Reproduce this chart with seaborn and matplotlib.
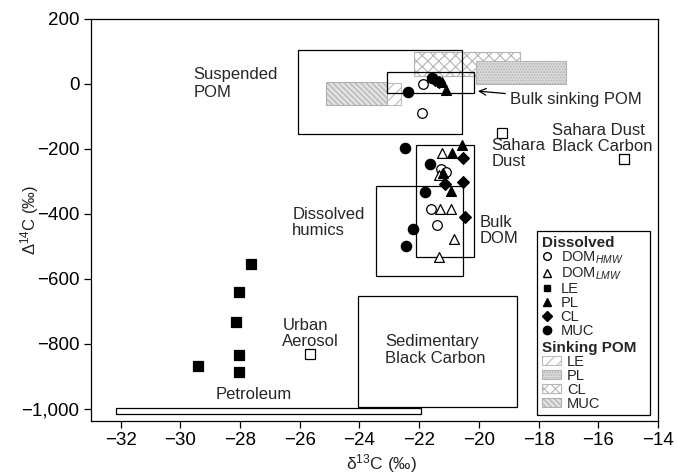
import numpy as np
import pandas as pd
import seaborn as sns
import matplotlib.pyplot as plt
from matplotlib.patches import Rectangle, Patch
from matplotlib.lines import Line2D
from matplotlib.ticker import FuncFormatter

# dissolved samples (d13C, D14C)
hmw_x = [-21.88, -21.89, -21.27, -21.11, -21.60, -21.40]
hmw_y = [-1, -90, -262, -270, -385, -435]
lmw_x = [-21.22, -21.33, -21.30, -20.92, -20.84, -21.32]
lmw_y = [-211, -279, -385, -385, -478, -534]
le_x = [-27.64, -28.03, -28.13, -28.03, -29.40, -28.03]
le_y = [-554, -641, -733, -834, -867, -885]
pl_x = [-20.90, -20.56, -21.19, -20.92, -21.24, -21.10]
pl_y = [-213, -187, -275, -329, 6, -18]
cl_x = [-20.54, -21.14, -20.52, -20.46, -21.47, -21.35]
cl_y = [-229, -308, -303, -409, 12, 7]
muc_x = [-22.47, -21.64, -21.81, -22.19, -22.45, -22.38, -21.58]
muc_y = [-198, -245, -333, -445, -499, -26, 19]

# single end-member samples (open squares)
other_names = ["Urban Aerosol", "Sahara Dust", "Sahara Dust Black Carbon"]
other_x = [-25.65, -19.21, -15.15]
other_y = [-832, -150, -232]

# end-member ranges (x0, x1, y0, y1)
box_names = ["Suspended POM", "Bulk sinking POM", "Dissolved humics",
             "Bulk DOM", "Sedimentary Black Carbon", "Petroleum"]
box_x0 = [-26.07, -23.08, -23.43, -22.10, -24.06, -32.15]
box_x1 = [-20.57, -20.15, -20.53, -20.15, -18.73, -21.95]
box_y0 = [-155, -27, -591, -534, -995, -1017]
box_y1 = [105, 37, -313, -188, -654, -997]

# sinking POM ranges
sink_names = ["LE", "MUC", "CL", "PL"]
sink_x0 = [-23.6, -25.11, -22.17, -20.09]
sink_x1 = [-22.60, -23.07, -18.62, -17.08]
sink_y0 = [-65, -65, 25, -1]
sink_y1 = [2, 7, 98, 71]
sink_hatch = {"LE": "///", "PL": "......", "CL": "xxx", "MUC": "\\\\\\\\\\\\"}
sink_face = {"LE": "white", "PL": "#dadada", "CL": "white", "MUC": "#e2e2e2"}
sink_edge = {"LE": "#bcbcbc", "PL": "#b4b4b4", "CL": "#b4b4b4", "MUC": "#b0b0b0"}

sns.set_style("ticks")
plt.rcParams["font.family"] = ["Liberation Sans", "DejaVu Sans"]
plt.rcParams["mathtext.fontset"] = "custom"
plt.rcParams["mathtext.rm"] = "Liberation Sans"
plt.rcParams["mathtext.it"] = "Liberation Sans:italic"
plt.rcParams["hatch.linewidth"] = 0.8

fig = plt.figure(figsize=(6.77, 4.74), dpi=100)
ax = fig.add_axes([0.134, 0.112, 0.838, 0.848])

# sinking POM patches in the back
for n, x0, x1, y0, y1 in zip(sink_names, sink_x0, sink_x1, sink_y0, sink_y1):
    ax.add_patch(Rectangle((x0, y0), x1 - x0, y1 - y0, facecolor=sink_face[n],
                           edgecolor=sink_edge[n], hatch=sink_hatch[n], lw=0.8, zorder=1))

# end-member boxes
for x0, x1, y0, y1 in zip(box_x0, box_x1, box_y0, box_y1):
    ax.add_patch(Rectangle((x0, y0), x1 - x0, y1 - y0, fill=False,
                           edgecolor="black", lw=0.9, zorder=2))

groups = [
    (hmw_x, hmw_y, "o", "white", 48),
    (lmw_x, lmw_y, "^", "white", 50),
    (le_x, le_y, "s", "black", 42),
    (pl_x, pl_y, "^", "black", 50),
    (cl_x, cl_y, "D", "black", 36),
    (muc_x, muc_y, "o", "black", 55),
]
for gx, gy, m, fc, s in groups:
    sns.scatterplot(x=gx, y=gy, marker=m, s=s, color=fc, edgecolor="black",
                    linewidth=0.9, ax=ax, zorder=3)

sns.scatterplot(x=other_x, y=other_y, marker="s", s=46, color="white",
                edgecolor="black", linewidth=0.9, ax=ax, zorder=3)

fs = 12
ls = 1.1
ax.text(-29.56, 0, "Suspended\nPOM", fontsize=fs, va="center", ha="left", linespacing=1.25)
ax.text(-19.59, -215, "Sahara\nDust", fontsize=fs, va="center", ha="left", linespacing=ls)
ax.text(-17.56, -167, "Sahara Dust\nBlack Carbon", fontsize=fs, va="center", ha="left", linespacing=ls)
ax.text(-19.96, -452, "Bulk\nDOM", fontsize=fs, va="center", ha="left", linespacing=ls)
ax.text(-26.25, -426, "Dissolved\nhumics", fontsize=fs, va="center", ha="left", linespacing=ls)
ax.text(-26.58, -768, "Urban\nAerosol", fontsize=fs, va="center", ha="left", linespacing=ls)
ax.text(-23.14, -820, "Sedimentary\nBlack Carbon", fontsize=fs, va="center", ha="left", linespacing=1.15)
ax.text(-27.54, -957, "Petroleum", fontsize=fs, va="center", ha="center")
ax.annotate("Bulk sinking POM", xy=(-20.03, -22), xytext=(-18.96, -49), fontsize=fs,
            va="center", ha="left",
            arrowprops=dict(arrowstyle="->", color="black", lw=0.9, shrinkA=1, shrinkB=0))

ax.set_xlim(-33, -14)
ax.set_ylim(-1037, 200)
ax.set_xticks(np.arange(-32, -13, 2))
ax.set_yticks(np.arange(-1000, 201, 200))
fmt = FuncFormatter(lambda v, p: "{:,.0f}".format(v).replace("-", "\u2212"))
ax.xaxis.set_major_formatter(fmt)
ax.yaxis.set_major_formatter(fmt)
ax.tick_params(direction="out", length=5, width=0.9, labelsize=13.5, colors="black", pad=3)
for sp in ax.spines.values():
    sp.set_linewidth(0.9)
    sp.set_color("black")
ax.set_xlabel("\u03b4$^{13}$C (\u2030)", fontsize=12.5)
ax.set_ylabel("\u0394$^{14}$C (\u2030)", fontsize=12)
ax.xaxis.set_label_coords(0.513, -0.078)
ax.yaxis.set_label_coords(-0.088, 0.5)

# legend: frame + two stacked legends
ax.add_patch(Rectangle((0.787, 0.015), 0.199, 0.457, transform=ax.transAxes,
                       facecolor="white", edgecolor="black", lw=0.9, zorder=4))

h1 = [
    Line2D([], [], marker="o", ls="none", mfc="white", mec="black", ms=5.5),
    Line2D([], [], marker="^", ls="none", mfc="white", mec="black", ms=5.5),
    Line2D([], [], marker="s", ls="none", mfc="black", mec="black", ms=5),
    Line2D([], [], marker="^", ls="none", mfc="black", mec="black", ms=6),
    Line2D([], [], marker="D", ls="none", mfc="black", mec="black", ms=5),
    Line2D([], [], marker="o", ls="none", mfc="black", mec="black", ms=6),
]
l1 = ["DOM$_{\\mathit{HMW}}$", "DOM$_{\\mathit{LMW}}$", "LE", "PL", "CL", "MUC"]
h2, l2 = [], []
for n in ["LE", "PL", "CL", "MUC"]:
    h2.append(Patch(facecolor=sink_face[n], edgecolor=sink_edge[n], hatch=sink_hatch[n], lw=0.8))
    l2.append(n)

leg1 = ax.legend(h1, l1, title="Dissolved", loc="upper left",
                 bbox_to_anchor=(0.787, 0.472), fontsize=10.5, title_fontsize=11,
                 frameon=False, alignment="left", handlelength=0.8, handletextpad=0.5,
                 labelspacing=0.0, borderpad=0.3, borderaxespad=0)
leg1.get_title().set_fontweight("bold")
leg1.set_zorder(5)
ax.add_artist(leg1)

leg2 = ax.legend(h2, l2, title="Sinking POM", loc="lower left",
                 bbox_to_anchor=(0.787, 0.015), fontsize=10.5, title_fontsize=11,
                 frameon=False, alignment="left", handlelength=1.3, handleheight=0.55,
                 handletextpad=0.45, labelspacing=0.0, borderpad=0.3, borderaxespad=0)
leg2.get_title().set_fontweight("bold")
leg2.set_zorder(5)

fig.savefig("out.png", dpi=100)
